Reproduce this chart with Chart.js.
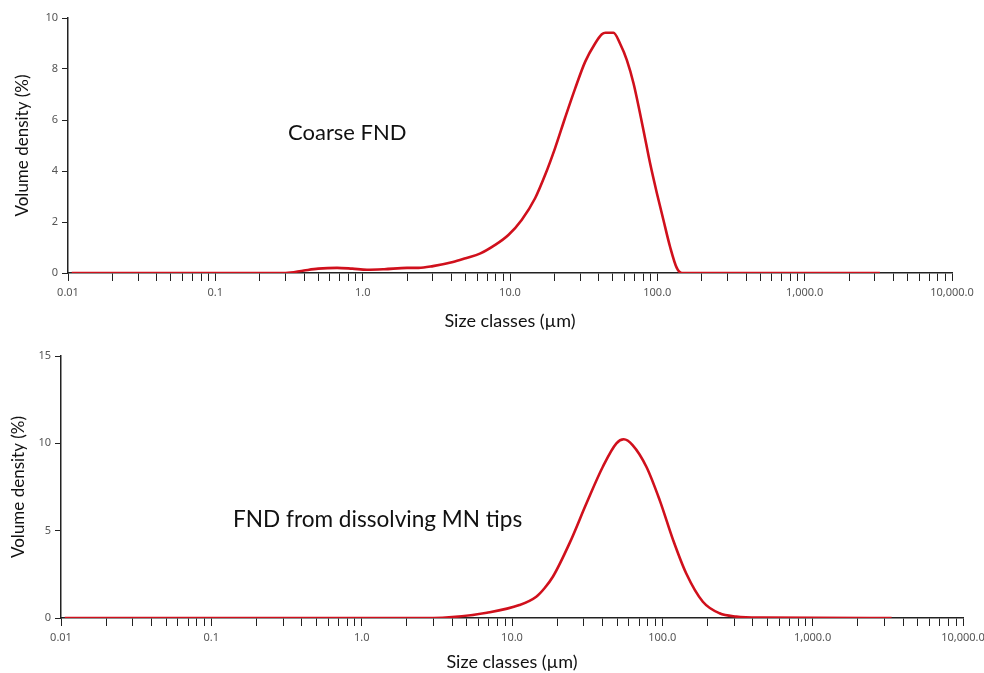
<!DOCTYPE html>
<html>
<head>
<meta charset="utf-8">
<script src="https://cdn.jsdelivr.net/npm/chart.js@4.4.1/dist/chart.umd.min.js"></script>
<style>
  body { margin: 0; background: #fff; width: 984px; height: 673px; position: relative; overflow: hidden; }
  .box { position: absolute; left: 0; width: 984px; }
  .note { position: absolute; font-family: Lato, sans-serif; line-height: 22px; color: #111; white-space: nowrap; }
</style>
</head>
<body>
<div class="box" style="top:0;height:340px"><canvas id="topChart" width="984" height="340"></canvas></div>
<div class="box" style="top:340px;height:333px"><canvas id="bottomChart" width="984" height="333"></canvas></div>
<div class="note" style="left:288px;top:121px;font-size:22px">Coarse FND</div>
<div class="note" style="left:233px;top:508px;font-size:22.6px">FND from dissolving MN tips</div>
<script>
// size classes (µm) and volume density (%)
const topSize = [0.0106, 0.3, 0.4, 0.5, 0.67, 0.85, 1.07, 1.4, 2.0, 2.4, 3.0, 4.1, 5.0, 6.3, 7.93, 9.75, 12.0, 14.8, 17.3, 20.2, 23.6, 27.7, 32.4, 37.8, 42, 44.5, 50.4, 56, 62.1, 68.9, 80.5, 89.3, 99.3, 110, 122, 135.5, 146.6, 3240];
const topVolume = [0, 0, 0.1, 0.17, 0.2, 0.17, 0.13, 0.15, 0.2, 0.2, 0.27, 0.43, 0.58, 0.77, 1.1, 1.49, 2.08, 2.93, 3.84, 4.89, 6.07, 7.24, 8.29, 9.0, 9.36, 9.42, 9.42, 8.98, 8.35, 7.44, 5.6, 4.3, 3.13, 2.08, 1.03, 0.2, 0, 0];

const bottomSize = [0.0106, 3.0, 4.0, 6.8, 11.2, 14.5, 16.5, 18.7, 24.2, 31.3, 40.2, 49.5, 55.4, 63.4, 78.3, 96, 118, 144, 186, 240, 310, 450, 3350];
const bottomVolume = [0, 0, 0.05, 0.3, 0.74, 1.22, 1.72, 2.36, 4.3, 6.57, 8.66, 10.0, 10.23, 9.9, 8.66, 6.75, 4.46, 2.56, 0.93, 0.27, 0.08, 0.02, 0];

// x axis decades and their labels
const decades = [0.01, 0.1, 1, 10, 100, 1000, 10000];
const decadeLabels = ['0.01', '0.1', '1.0', '10.0', '100.0', '1,000.0', '10,000.0'];

const lineColor = '#d0101c';

function makeChart(id, sizes, volumes, yMax, yStep, opts) {
  const ctx = document.getElementById(id).getContext('2d');
  return new Chart(ctx, {
    type: 'line',
    data: {
      datasets: [{
        data: sizes.map((s, i) => ({ x: s, y: volumes[i] })),
        borderColor: lineColor,
        borderWidth: 2.6,
        pointRadius: 0,
        cubicInterpolationMode: 'monotone',
        fill: false,
      }],
    },
    options: {
      responsive: false,
      animation: false,
      layout: { padding: { left: 0, right: opts.right, top: opts.top, bottom: 0 } },
      plugins: { legend: { display: false }, tooltip: { enabled: false } },
      scales: {
        x: {
          type: 'logarithmic',
          min: 0.01,
          max: 10000,
          afterBuildTicks: (axis) => {
            let ticks = [];
            for (let d = 0; d < decades.length; d++) {
              ticks.push({ value: decades[d] });
              if (d < decades.length - 1) {
                for (let k = 2; k <= 9; k++) ticks.push({ value: +(decades[d] * k).toPrecision(3) });
              }
            }
            axis.ticks = ticks;
          },
          afterFit: (axis) => {
            axis.height = opts.xHeight;
            axis.paddingLeft = 0;
            axis.paddingRight = 0;
          },
          ticks: {
            autoSkip: false,
            maxRotation: 0,
            padding: 5,
            color: '#555',
            font: { family: '"Noto Sans", sans-serif', size: 11 },
            callback: (v) => {
              let i = decades.findIndex((d) => Math.abs(d - v) / d < 1e-6);
              return i >= 0 ? decadeLabels[i] : '';
            },
          },
          grid: { drawOnChartArea: false, drawTicks: true, tickLength: 8, color: '#222', lineWidth: 1 },
          border: { display: true, color: '#222', width: 1.5 },
          title: {
            display: true,
            text: 'Size classes (µm)',
            color: '#111',
            font: { family: 'Lato, sans-serif', size: 18 },
            padding: { top: 0, bottom: opts.xTitlePad },
          },
        },
        y: {
          min: 0,
          max: yMax,
          afterFit: (axis) => { axis.width = opts.yWidth; },
          ticks: {
            stepSize: yStep,
            padding: 4,
            color: '#555',
            font: { family: '"Noto Sans", sans-serif', size: 11 },
          },
          grid: { drawOnChartArea: false, drawTicks: true, tickLength: 6, color: '#222', lineWidth: 1 },
          border: { display: true, color: '#222', width: 1.5 },
          title: {
            display: true,
            text: 'Volume density (%)',
            color: '#111',
            font: { family: 'Lato, sans-serif', size: 17 },
            padding: { top: opts.yTitlePad, bottom: 0 },
          },
        },
      },
    },
  });
}

makeChart('topChart', topSize, topVolume, 10, 2, { right: 32, top: 18, xHeight: 67, yWidth: 68, xTitlePad: 8, yTitlePad: 12 });
makeChart('bottomChart', bottomSize, bottomVolume, 15, 5, { right: 21, top: 16, xHeight: 55, yWidth: 61, xTitlePad: 0, yTitlePad: 8 });
</script>
</body>
</html>
